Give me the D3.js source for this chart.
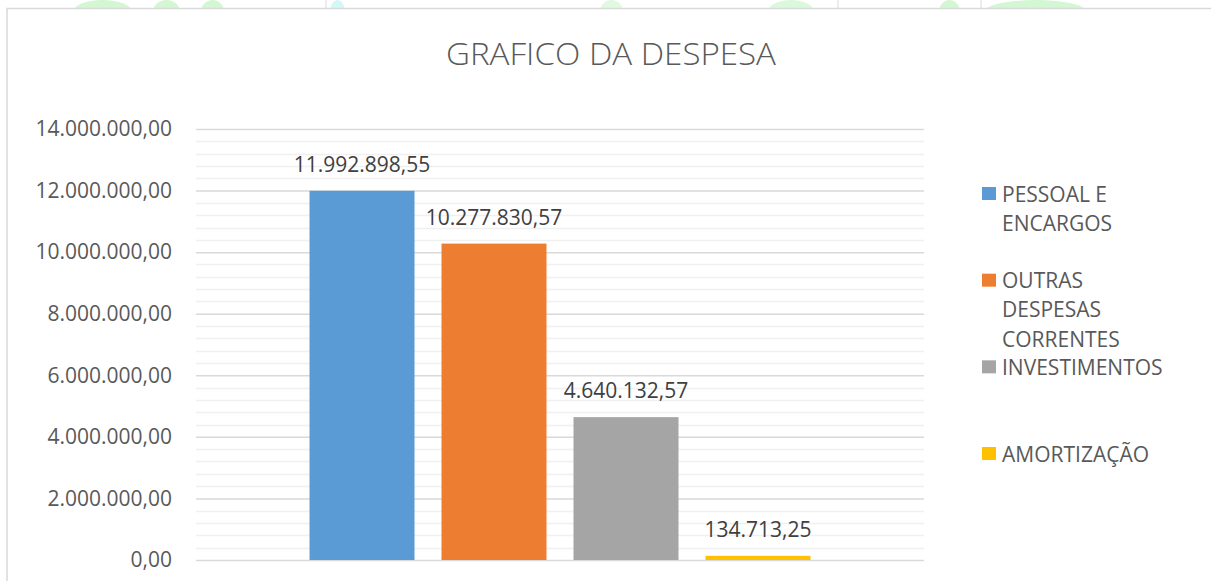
<!DOCTYPE html>
<html>
<head>
<meta charset="utf-8">
<script src="https://cdn.jsdelivr.net/npm/d3@7"></script>
<style>
  html, body { margin: 0; padding: 0; background: #ffffff; }
  svg { display: block; font-family: "Open Sans", "Liberation Sans", Arial, sans-serif; }
</style>
</head>
<body>
<svg id="chart" width="1211" height="581"></svg>
<script>
// ---- data ----
const title = "GRAFICO DA DESPESA";
const seriesNames = ["PESSOAL E ENCARGOS", "OUTRAS DESPESAS CORRENTES", "INVESTIMENTOS", "AMORTIZAÇÃO"];
const legendLines = [["PESSOAL E", "ENCARGOS"], ["OUTRAS", "DESPESAS", "CORRENTES"], ["INVESTIMENTOS"], ["AMORTIZAÇÃO"]];
const seriesValues = [11992898.55, 10277830.57, 4640132.57, 134713.25];
const seriesColors = ["#5b9bd5", "#ed7d31", "#a5a5a5", "#ffc000"];
const yTicks = [0, 2000000, 4000000, 6000000, 8000000, 10000000, 12000000, 14000000];
const yMinorStep = 400000;

// ---- setup ----
const svg = d3.select("#chart");
const W = 1211, H = 581;
const plot = { left: 196, right: 924, top: 129, bottom: 560 };

const ptBR = d3.formatLocale({ decimal: ",", thousands: ".", grouping: [3], currency: ["R$", ""] });
const fmt = ptBR.format(",.2f");

// background decoration strip (document behind the chart)
const deco = svg.append("g");
const decoBlobs = [[73, 132, "#d2f7d2"], [153, 180, "#d2f7d2"], [201, 224, "#d2f7d2"], [330, 345, "#d4f7f7"], [600, 623, "#e0f9e0"], [768, 814, "#daf8da"], [939, 960, "#d2f7d2"], [984, 1087, "#d2f7d2"]];
deco.selectAll("ellipse").data(decoBlobs).join("ellipse")
  .attr("cx", d => (d[0] + d[1]) / 2).attr("cy", 12)
  .attr("rx", d => (d[1] - d[0]) / 2).attr("ry", 12)
  .attr("fill", d => d[2]);
deco.selectAll("line").data([326, 838, 981]).join("line")
  .attr("x1", d => d).attr("x2", d => d).attr("y1", 0).attr("y2", 8)
  .attr("stroke", "#d9d9d9").attr("stroke-width", 1);

// chart area frame
svg.append("rect").attr("x", 0).attr("y", 8.5).attr("width", W).attr("height", H)
  .attr("fill", "#ffffff");
svg.append("path")
  .attr("d", `M7,${H + 2} L7,8.5 L${W + 2},8.5`)
  .attr("fill", "none").attr("stroke", "#d9d9d9").attr("stroke-width", 1.5);

// scales
const y = d3.scaleLinear().domain([0, 14000000]).range([plot.bottom, plot.top]);
const x = d3.scaleBand().domain(seriesNames).range([plot.left, plot.right])
  .paddingInner(27 / 132).paddingOuter(0.86);

// minor gridlines
const minorTicks = d3.range(0, 14000000 + 1, yMinorStep).filter(v => !yTicks.includes(v));
svg.append("g").selectAll("line").data(minorTicks).join("line")
  .attr("x1", plot.left).attr("x2", plot.right)
  .attr("y1", d => Math.round(y(d)) + 0.5).attr("y2", d => Math.round(y(d)) + 0.5)
  .attr("stroke", "#f0f0f0").attr("stroke-width", 1.3);

// major gridlines + labels via axis
const yAxis = d3.axisLeft(y).tickValues(yTicks).tickFormat(fmt)
  .tickSize(-(plot.right - plot.left)).tickPadding(24);
const gy = svg.append("g").attr("transform", `translate(${plot.left},0)`).call(yAxis);
gy.select(".domain").remove();
gy.selectAll(".tick line").attr("stroke", "#d9d9d9").attr("stroke-width", 1.5);
gy.selectAll(".tick text").attr("fill", "#595959").attr("font-size", 21)
  .attr("font-family", "'Open Sans', 'Liberation Sans', Arial, sans-serif");

// bars
svg.append("g").selectAll("rect").data(seriesNames).join("rect")
  .attr("x", d => x(d)).attr("width", x.bandwidth())
  .attr("y", (d, i) => y(seriesValues[i]))
  .attr("height", (d, i) => y(0) - y(seriesValues[i]))
  .attr("fill", (d, i) => seriesColors[i]);

// data labels
svg.append("g").selectAll("text").data(seriesNames).join("text")
  .attr("x", d => x(d) + x.bandwidth() / 2)
  .attr("y", (d, i) => y(seriesValues[i]) - 19)
  .attr("text-anchor", "middle").attr("font-size", 21).attr("fill", "#404040")
  .text((d, i) => fmt(seriesValues[i]));

// title
svg.append("text").attr("x", 611).attr("y", 64.5).attr("text-anchor", "middle")
  .attr("font-size", 31).attr("font-weight", 300).attr("fill", "#595959")
  .attr("textLength", 330).attr("lengthAdjust", "spacingAndGlyphs")
  .text(title);

// legend
const ly = d3.scaleLinear().domain([0, 3]).range([187, 447]);
const lg = svg.append("g");
seriesNames.forEach((name, i) => {
  const top = ly(i);
  lg.append("rect").attr("x", 982).attr("y", top).attr("width", 14).attr("height", 13)
    .attr("fill", seriesColors[i]);
  const t = lg.append("text").attr("x", 1002).attr("y", top + 14.5)
    .attr("font-size", 21).attr("fill", "#595959");
  legendLines[i].forEach((ln, j) => {
    t.append("tspan").attr("x", 1002).attr("dy", j === 0 ? 0 : 29.2).text(ln);
  });
});
</script>
</body>
</html>
